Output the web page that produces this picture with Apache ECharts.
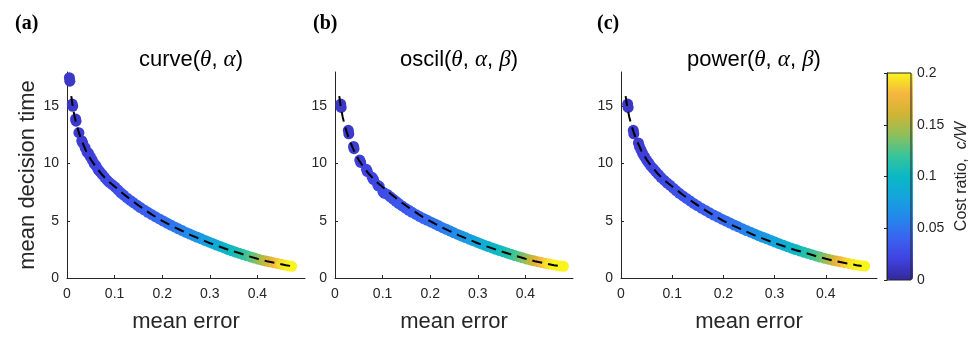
<!DOCTYPE html>
<html>
<head>
<meta charset="utf-8">
<script src="https://cdn.jsdelivr.net/npm/echarts@6/dist/echarts.min.js"></script>
<style>html,body{margin:0;padding:0;background:#fff}#c{width:971px;height:338px}</style>
</head>
<body>
<div id="c"></div>
<script>
// ---- tick labels ----
const xTicks = [0, 0.1, 0.2, 0.3, 0.4];
const yTicks = [0, 5, 10, 15];
const cbTicks = [0, 0.05, 0.1, 0.15, 0.2];
const panelLabels = ['(a)', '(b)', '(c)'];
const panelTitles = ['curve({m|θ}, {m|α})', 'oscil({m|θ}, {m|α}, {m|β})', 'power({m|θ}, {m|α}, {m|β})'];

// ---- panel (a) scatter: mean error, mean decision time, cost ratio ----
const errA = [0.005,0.006,0.011,0.012,0.018,0.019,0.025,0.031,0.033,0.038,0.042,
  0.045,0.049,0.053,0.057,0.061,0.065,0.069,0.074,0.079,0.084,0.089,0.095,0.101,0.107,0.113,0.119,
  0.126,0.133,0.140,0.147,0.154,0.162,0.170,0.178,0.186,0.194,0.202,0.210,0.218,0.226,0.234,0.242,
  0.250,0.258,0.266,0.274,0.282,0.290,0.298,0.306,0.314,0.322,0.330,0.338,0.346,0.354,0.362,0.370,
  0.378,0.386,0.394,0.402,0.410,0.418,0.426,0.434,0.442,0.450,0.458,0.466,0.472];
const timeA = [17.5,17.2,15.2,15.0,13.9,13.7,12.7,12.0,11.8,11.4,11.0,
  10.9,10.6,10.3,10.0,9.8,9.5,9.3,9.05,8.8,8.55,8.35,8.15,7.95,7.7,7.45,7.25,
  7.0,6.78,6.57,6.36,6.16,5.95,5.74,5.54,5.35,5.16,4.98,4.8,4.63,4.46,4.3,4.14,
  3.98,3.84,3.7,3.56,3.42,3.28,3.15,3.02,2.88,2.76,2.63,2.5,2.38,2.27,2.16,2.05,
  1.94,1.84,1.74,1.64,1.56,1.48,1.41,1.34,1.27,1.2,1.13,1.07,1.02];
const costA = [0.012,0.012,0.013,0.013,0.014,0.014,0.015,0.016,0.016,0.017,0.017,
  0.018,0.018,0.019,0.019,0.020,0.021,0.021,0.022,0.023,0.024,0.025,0.026,0.027,0.028,0.029,0.030,
  0.031,0.032,0.033,0.034,0.035,0.037,0.038,0.040,0.041,0.043,0.045,0.047,0.049,0.051,0.053,0.056,
  0.059,0.062,0.065,0.068,0.071,0.075,0.078,0.082,0.085,0.089,0.093,0.097,0.101,0.105,0.109,0.114,
  0.119,0.125,0.131,0.138,0.146,0.155,0.165,0.175,0.184,0.191,0.196,0.199,0.200];

// ---- panel (b) scatter ----
const errB = [0.012,0.013,0.028,0.029,0.039,0.040,0.052,0.054,0.066,0.068,0.078,0.081,0.090,0.093,0.101,0.104,
  0.110,0.116,0.122,0.128,0.134,0.141,0.148,0.155,0.162,0.170,0.178,0.186,0.194,0.202,0.210,0.218,
  0.226,0.234,0.242,0.250,0.258,0.266,0.274,0.282,0.290,0.298,0.306,0.314,0.322,0.330,0.338,0.346,
  0.354,0.362,0.370,0.378,0.386,0.394,0.402,0.410,0.418,0.426,0.434,0.442,0.450,0.458,0.466,0.474,0.480];
const timeB = [15.2,14.9,12.9,12.6,11.5,11.3,10.3,10.1,9.5,9.3,8.8,8.6,8.1,8.0,7.5,7.4,
  7.3,7.1,6.9,6.7,6.5,6.3,6.1,5.92,5.74,5.55,5.37,5.2,5.04,4.88,4.72,4.56,
  4.4,4.25,4.1,3.95,3.81,3.67,3.53,3.39,3.26,3.13,3.0,2.87,2.75,2.63,2.51,2.4,
  2.29,2.18,2.07,1.96,1.86,1.76,1.67,1.58,1.5,1.43,1.36,1.29,1.22,1.16,1.1,1.05,1.02];
const costB = [0.012,0.012,0.014,0.014,0.016,0.016,0.018,0.018,0.020,0.020,0.022,0.022,0.024,0.024,0.026,0.026,
  0.027,0.028,0.029,0.030,0.031,0.032,0.034,0.035,0.036,0.038,0.040,0.042,0.044,0.046,0.048,0.050,
  0.052,0.055,0.058,0.061,0.064,0.067,0.070,0.073,0.076,0.080,0.083,0.087,0.090,0.094,0.098,0.102,
  0.106,0.110,0.115,0.120,0.126,0.133,0.141,0.150,0.160,0.170,0.180,0.188,0.194,0.198,0.200,0.200,0.200];

// ---- panel (c) scatter ----
const errC = [0.013,0.014,0.024,0.025,0.034,0.036,
  0.039,0.042,0.046,0.050,0.054,0.058,0.063,0.068,0.073,0.078,0.084,0.090,0.096,0.102,0.108,0.114,
  0.121,0.128,0.135,0.142,0.149,0.157,0.165,0.173,0.181,0.189,0.197,0.205,0.213,0.221,0.229,0.237,
  0.245,0.253,0.261,0.269,0.277,0.285,0.293,0.301,0.309,0.317,0.325,0.333,0.341,0.349,0.357,0.365,
  0.373,0.381,0.389,0.397,0.405,0.413,0.421,0.429,0.437,0.445,0.453,0.461,0.469,0.476];
const timeC = [15.2,14.9,12.9,12.6,11.8,11.5,
  11.2,10.9,10.6,10.3,10.05,9.8,9.55,9.3,9.05,8.8,8.55,8.3,8.1,7.85,7.62,7.4,
  7.17,6.95,6.73,6.52,6.32,6.1,5.9,5.7,5.5,5.32,5.14,4.97,4.8,4.63,4.47,4.31,
  4.15,4.0,3.85,3.7,3.56,3.42,3.28,3.14,3.0,2.87,2.74,2.61,2.49,2.37,2.26,2.15,
  2.04,1.93,1.83,1.73,1.64,1.56,1.48,1.41,1.34,1.27,1.2,1.14,1.08,1.04];
const costC = [0.012,0.012,0.014,0.014,0.015,0.016,
  0.017,0.017,0.018,0.018,0.019,0.020,0.020,0.021,0.022,0.023,0.024,0.025,0.026,0.027,0.028,0.029,
  0.030,0.031,0.032,0.033,0.034,0.035,0.037,0.038,0.040,0.041,0.043,0.045,0.047,0.049,0.051,0.053,
  0.058,0.061,0.064,0.067,0.070,0.073,0.076,0.080,0.083,0.087,0.091,0.095,0.099,0.103,0.107,0.112,
  0.117,0.123,0.129,0.136,0.145,0.155,0.166,0.177,0.186,0.192,0.196,0.199,0.200,0.200];

// ---- dashed fitted curves ----
const curveErr = [0.009,0.012,0.016,0.02,0.025,0.03,0.04,0.05,0.06,0.07,0.08,0.09,0.1,0.12,0.14,0.16,
  0.18,0.2,0.22,0.24,0.26,0.28,0.3,0.32,0.34,0.36,0.38,0.4,0.42,0.44,0.46,0.47];
const curveTimeA = [15.9,15.0,14.1,13.4,12.7,12.1,11.1,10.35,9.75,9.2,8.75,8.35,8.0,7.3,6.65,6.05,
  5.5,5.0,4.55,4.15,3.75,3.4,3.05,2.75,2.45,2.2,1.92,1.68,1.47,1.29,1.12,1.05];
const curveTimeB = [15.9,15.0,14.1,13.4,12.7,12.1,11.1,10.3,9.7,9.15,8.7,8.3,7.95,7.25,6.6,6.0,
  5.45,4.97,4.52,4.12,3.73,3.38,3.04,2.74,2.45,2.19,1.92,1.68,1.47,1.29,1.12,1.05];
const curveTimeC = [15.9,15.0,14.1,13.4,12.7,12.1,11.1,10.35,9.75,9.2,8.75,8.35,8.0,7.3,6.65,6.05,
  5.5,5.0,4.55,4.15,3.75,3.4,3.05,2.75,2.45,2.2,1.92,1.68,1.47,1.29,1.12,1.05];

// ---- colormap (parula-like) ----
const parula = ['#33289a','#3f42e0','#3a62f0','#2487ec','#14a4dc','#0ab8c4','#38c49a','#8cc05c','#d0b434','#f6b640','#f8f41c'];

const SANS = 'Liberation Sans, Arial, Helvetica, sans-serif';
const SERIF = 'Liberation Serif, Times New Roman, serif';
const AX = '#262626';

const panels = [
  {err: errA, time: timeA, cost: costA, ct: curveTimeA, left: 67, width: 238},
  {err: errB, time: timeB, cost: costB, ct: curveTimeB, left: 335, width: 238},
  {err: errC, time: timeC, cost: costC, ct: curveTimeC, left: 621, width: 256}
];

const grids = [], xAxes = [], yAxes = [], series = [], titles = [];
panels.forEach((p, i) => {
  grids.push({left: p.left, top: 72, width: p.width, height: 207, containLabel: false});
  xAxes.push({
    type: 'value', gridIndex: i, min: 0, max: 0.5,
    name: 'mean error', nameLocation: 'middle', nameGap: 33,
    nameTextStyle: {fontFamily: SANS, fontSize: 22, color: AX},
    axisLine: {show: true, onZero: false, lineStyle: {color: AX, width: 1}},
    axisTick: {show: true, inside: true, length: 3, customValues: xTicks, lineStyle: {color: AX}},
    axisLabel: {customValues: xTicks, fontFamily: SANS, fontSize: 14, color: AX, margin: 9},
    splitLine: {show: false}
  });
  yAxes.push({
    type: 'value', gridIndex: i, min: 0, max: 18,
    name: i === 0 ? 'mean decision time' : '', nameLocation: 'middle', nameGap: 28,
    nameTextStyle: {fontFamily: SANS, fontSize: 22, color: AX},
    axisLine: {show: true, onZero: false, lineStyle: {color: AX, width: 1}},
    axisTick: {show: true, inside: true, length: 3, customValues: yTicks, lineStyle: {color: AX}},
    axisLabel: {customValues: yTicks, fontFamily: SANS, fontSize: 14, color: AX, margin: 8},
    splitLine: {show: false}
  });
  series.push({
    type: 'scatter', xAxisIndex: i, yAxisIndex: i, symbolSize: 11, z: 2,
    data: p.err.map((e, k) => [e, p.time[k], p.cost[k]]),
    itemStyle: {opacity: 1}, emphasis: {disabled: true}, silent: true
  });
  series.push({
    type: 'line', xAxisIndex: i, yAxisIndex: i, showSymbol: false, symbol: 'none', z: 3, silent: true,
    data: curveErr.map((e, k) => [e, p.ct[k]]),
    lineStyle: {color: '#000', width: 2, type: [10, 6]}
  });
  titles.push({
    text: panelTitles[i], left: p.left + p.width / 2, top: 43, textAlign: 'center',
    textStyle: {fontFamily: SANS, fontSize: 22, fontWeight: 'normal', color: '#000',
      rich: {m: {fontFamily: SERIF, fontStyle: 'italic', fontSize: 23, color: '#000'}}}
  });
});
[10, 308, 592].forEach((x, i) => titles.push({
  text: panelLabels[i], left: x, top: 9,
  textStyle: {fontFamily: SERIF, fontSize: 20, fontWeight: 'bold', color: '#000'}
}));

// colorbar grid
grids.push({left: 887, top: 73, width: 26, height: 207, show: true, borderColor: AX, borderWidth: 1,
  backgroundColor: 'transparent', z: 10});
xAxes.push({type: 'value', gridIndex: 3, min: 0, max: 1, show: false});
yAxes.push({
  type: 'value', gridIndex: 3, min: 0, max: 0.2, position: 'right', z: 10,
  name: 'Cost ratio,  {i|c/W}', nameLocation: 'middle', nameGap: 43, nameRotate: 90,
  nameTextStyle: {fontFamily: SANS, fontSize: 16, color: AX,
    rich: {i: {fontFamily: SANS, fontStyle: 'italic', fontSize: 16, color: AX}}},
  axisLine: {show: true, lineStyle: {color: AX, width: 1}},
  axisTick: {show: true, inside: true, length: 3, customValues: cbTicks, lineStyle: {color: AX}},
  axisLabel: {customValues: cbTicks, fontFamily: SANS, fontSize: 14, color: AX, margin: 6},
  splitLine: {show: false}
});

const option = {
  backgroundColor: '#fff',
  animation: false,
  title: titles,
  grid: grids,
  xAxis: xAxes,
  yAxis: yAxes,
  visualMap: {
    type: 'continuous', min: 0, max: 0.2, dimension: 2, seriesIndex: [0, 2, 4],
    calculable: false, hoverLink: false, orient: 'vertical',
    left: 887, top: 73, itemWidth: 26, itemHeight: 207, padding: 0, text: null, showLabel: false,
    inRange: {color: parula}
  },
  series: series
};
const chart = echarts.init(document.getElementById('c'), null, {renderer: 'canvas'});
chart.setOption(option);
</script>
</body>
</html>
